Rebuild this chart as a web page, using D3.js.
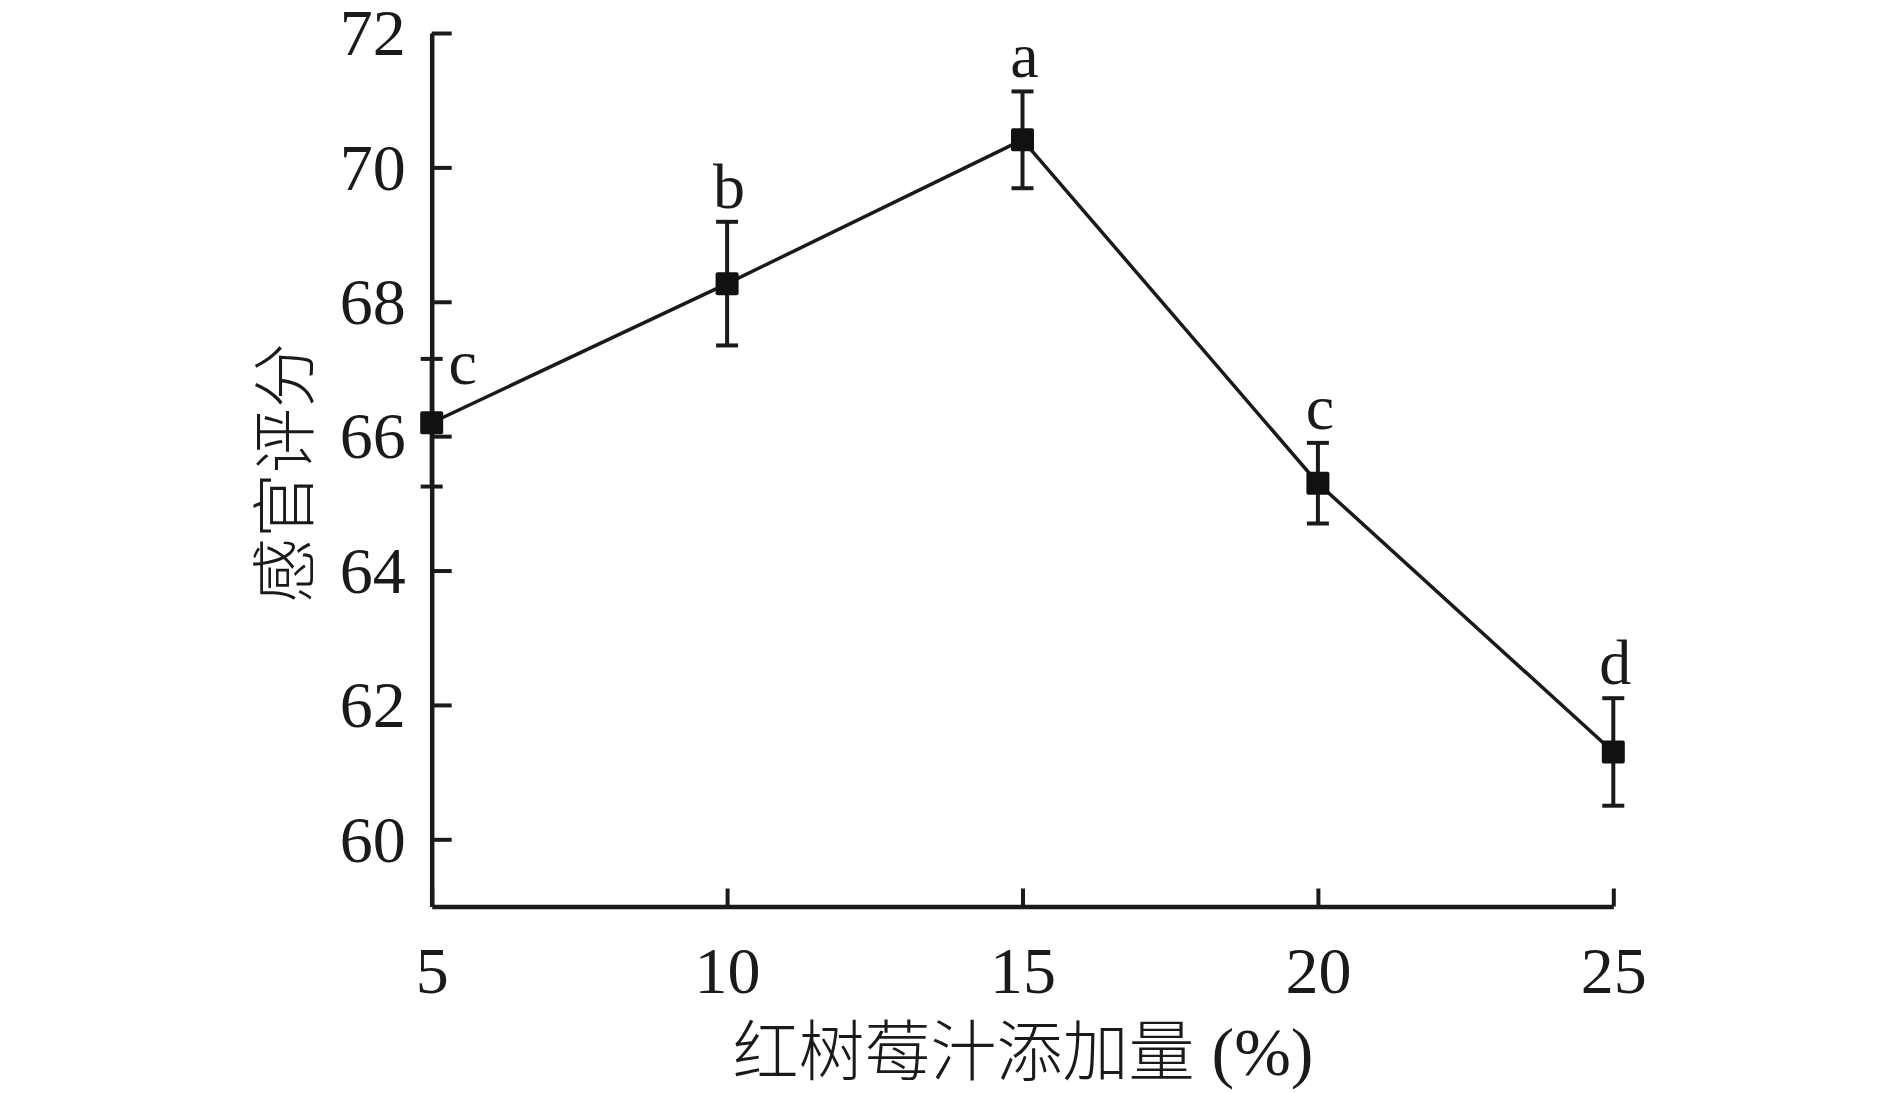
<!DOCTYPE html>
<html><head><meta charset="utf-8">
<script src="https://cdn.jsdelivr.net/npm/d3@7"></script>
<style>
html,body{margin:0;padding:0;background:#fff;}
svg{display:block;}
.tick text{font-family:"Liberation Serif","Times New Roman",serif;}
</style></head><body>
<svg id="c" width="1890" height="1093"></svg>
<script>
const xValues = [5, 10, 15, 20, 25];
const scores = [66.2, 68.27, 70.41, 65.3, 61.3];
const errors = [0.95, 0.92, 0.72, 0.6, 0.8];
const letters = ["c", "b", "a", "c", "d"];
const yTicks = [60, 62, 64, 66, 68, 70, 72];
const xTicks = [5, 10, 15, 20, 25];
const xTitleCJK = "红树莓汁添加量";
const xTitleUnit = " (%)";
const yTitle = "感官评分";

const svg = d3.select("#c");
const x = d3.scaleLinear().domain([5, 25]).range([431.7, 1613.3]);
const y = d3.scaleLinear().domain([59, 72]).range([906.5, 33]);
const ink = "#1a1a1a";
const serif = '"Liberation Serif","Times New Roman",serif';
const cjk = '"Noto Sans CJK SC",sans-serif';

const gy = svg.append("g").attr("transform", `translate(${x(5)},0)`)
  .call(d3.axisLeft(y).tickValues(yTicks).tickSize(-20).tickSizeOuter(0).tickPadding(26).tickFormat(d3.format("d")));
gy.select(".domain").attr("stroke", ink).attr("stroke-width", 4.5);
gy.selectAll(".tick line").attr("stroke", ink).attr("stroke-width", 4);
gy.selectAll(".tick text").attr("font-size", 66).attr("fill", ink).attr("dy", "0.33em");

const gx = svg.append("g").attr("transform", `translate(0,${y(59)})`)
  .call(d3.axisBottom(x).tickValues(xTicks).tickSize(-18).tickSizeOuter(0).tickPadding(40).tickFormat(d3.format("d")));
gx.select(".domain").attr("stroke", ink).attr("stroke-width", 4.5);
gx.selectAll(".tick line").attr("stroke", ink).attr("stroke-width", 4);
gx.selectAll(".tick text").attr("font-size", 66).attr("fill", ink).attr("dy", "0.71em");

const data = xValues.map((v, i) => ({x: v, y: scores[i], e: errors[i], l: letters[i]}));

// line
svg.append("path").datum(data)
  .attr("d", d3.line().x(d => x(d.x)).y(d => y(d.y)))
  .attr("fill", "none").attr("stroke", ink).attr("stroke-width", 3.5);

// error bars
const eb = svg.append("g").selectAll("g").data(data).join("g");
eb.append("line").attr("x1", d => x(d.x)).attr("x2", d => x(d.x))
  .attr("y1", d => y(d.y + d.e)).attr("y2", d => y(d.y - d.e))
  .attr("stroke", ink).attr("stroke-width", 4);
eb.append("line").attr("x1", d => x(d.x) - 11).attr("x2", d => x(d.x) + 11)
  .attr("y1", d => y(d.y + d.e)).attr("y2", d => y(d.y + d.e))
  .attr("stroke", ink).attr("stroke-width", 4);
eb.append("line").attr("x1", d => x(d.x) - 11).attr("x2", d => x(d.x) + 11)
  .attr("y1", d => y(d.y - d.e)).attr("y2", d => y(d.y - d.e))
  .attr("stroke", ink).attr("stroke-width", 4);

// markers
svg.append("g").selectAll("rect").data(data).join("rect")
  .attr("x", d => x(d.x) - 11.5).attr("y", d => y(d.y) - 11.5)
  .attr("width", 23).attr("height", 23).attr("rx", 2)
  .attr("fill", "#111");

// letters
svg.append("g").selectAll("text").data(data).join("text")
  .attr("x", (d, i) => i === 0 ? x(d.x) + 31 : x(d.x) + 2)
  .attr("y", (d, i) => i === 0 ? y(d.y + d.e) + 25 : y(d.y + d.e) - 14)
  .attr("text-anchor", "middle")
  .attr("font-family", serif).attr("font-size", 64).attr("fill", ink)
  .text(d => d.l);

// axis titles
const xt = svg.append("text").attr("x", 1023).attr("y", 1075)
  .attr("text-anchor", "middle").attr("fill", ink);
xt.append("tspan").attr("font-family", cjk).attr("font-size", 66).attr("font-weight", 300).text(xTitleCJK);
xt.append("tspan").attr("font-family", serif).attr("font-size", 68).text(xTitleUnit);

svg.append("text").attr("transform", "translate(308,473) rotate(-90)")
  .attr("text-anchor", "middle").attr("font-family", cjk)
  .attr("font-size", 65).attr("fill", ink).attr("font-weight", 300)
  .text(yTitle);
</script>
</body></html>
